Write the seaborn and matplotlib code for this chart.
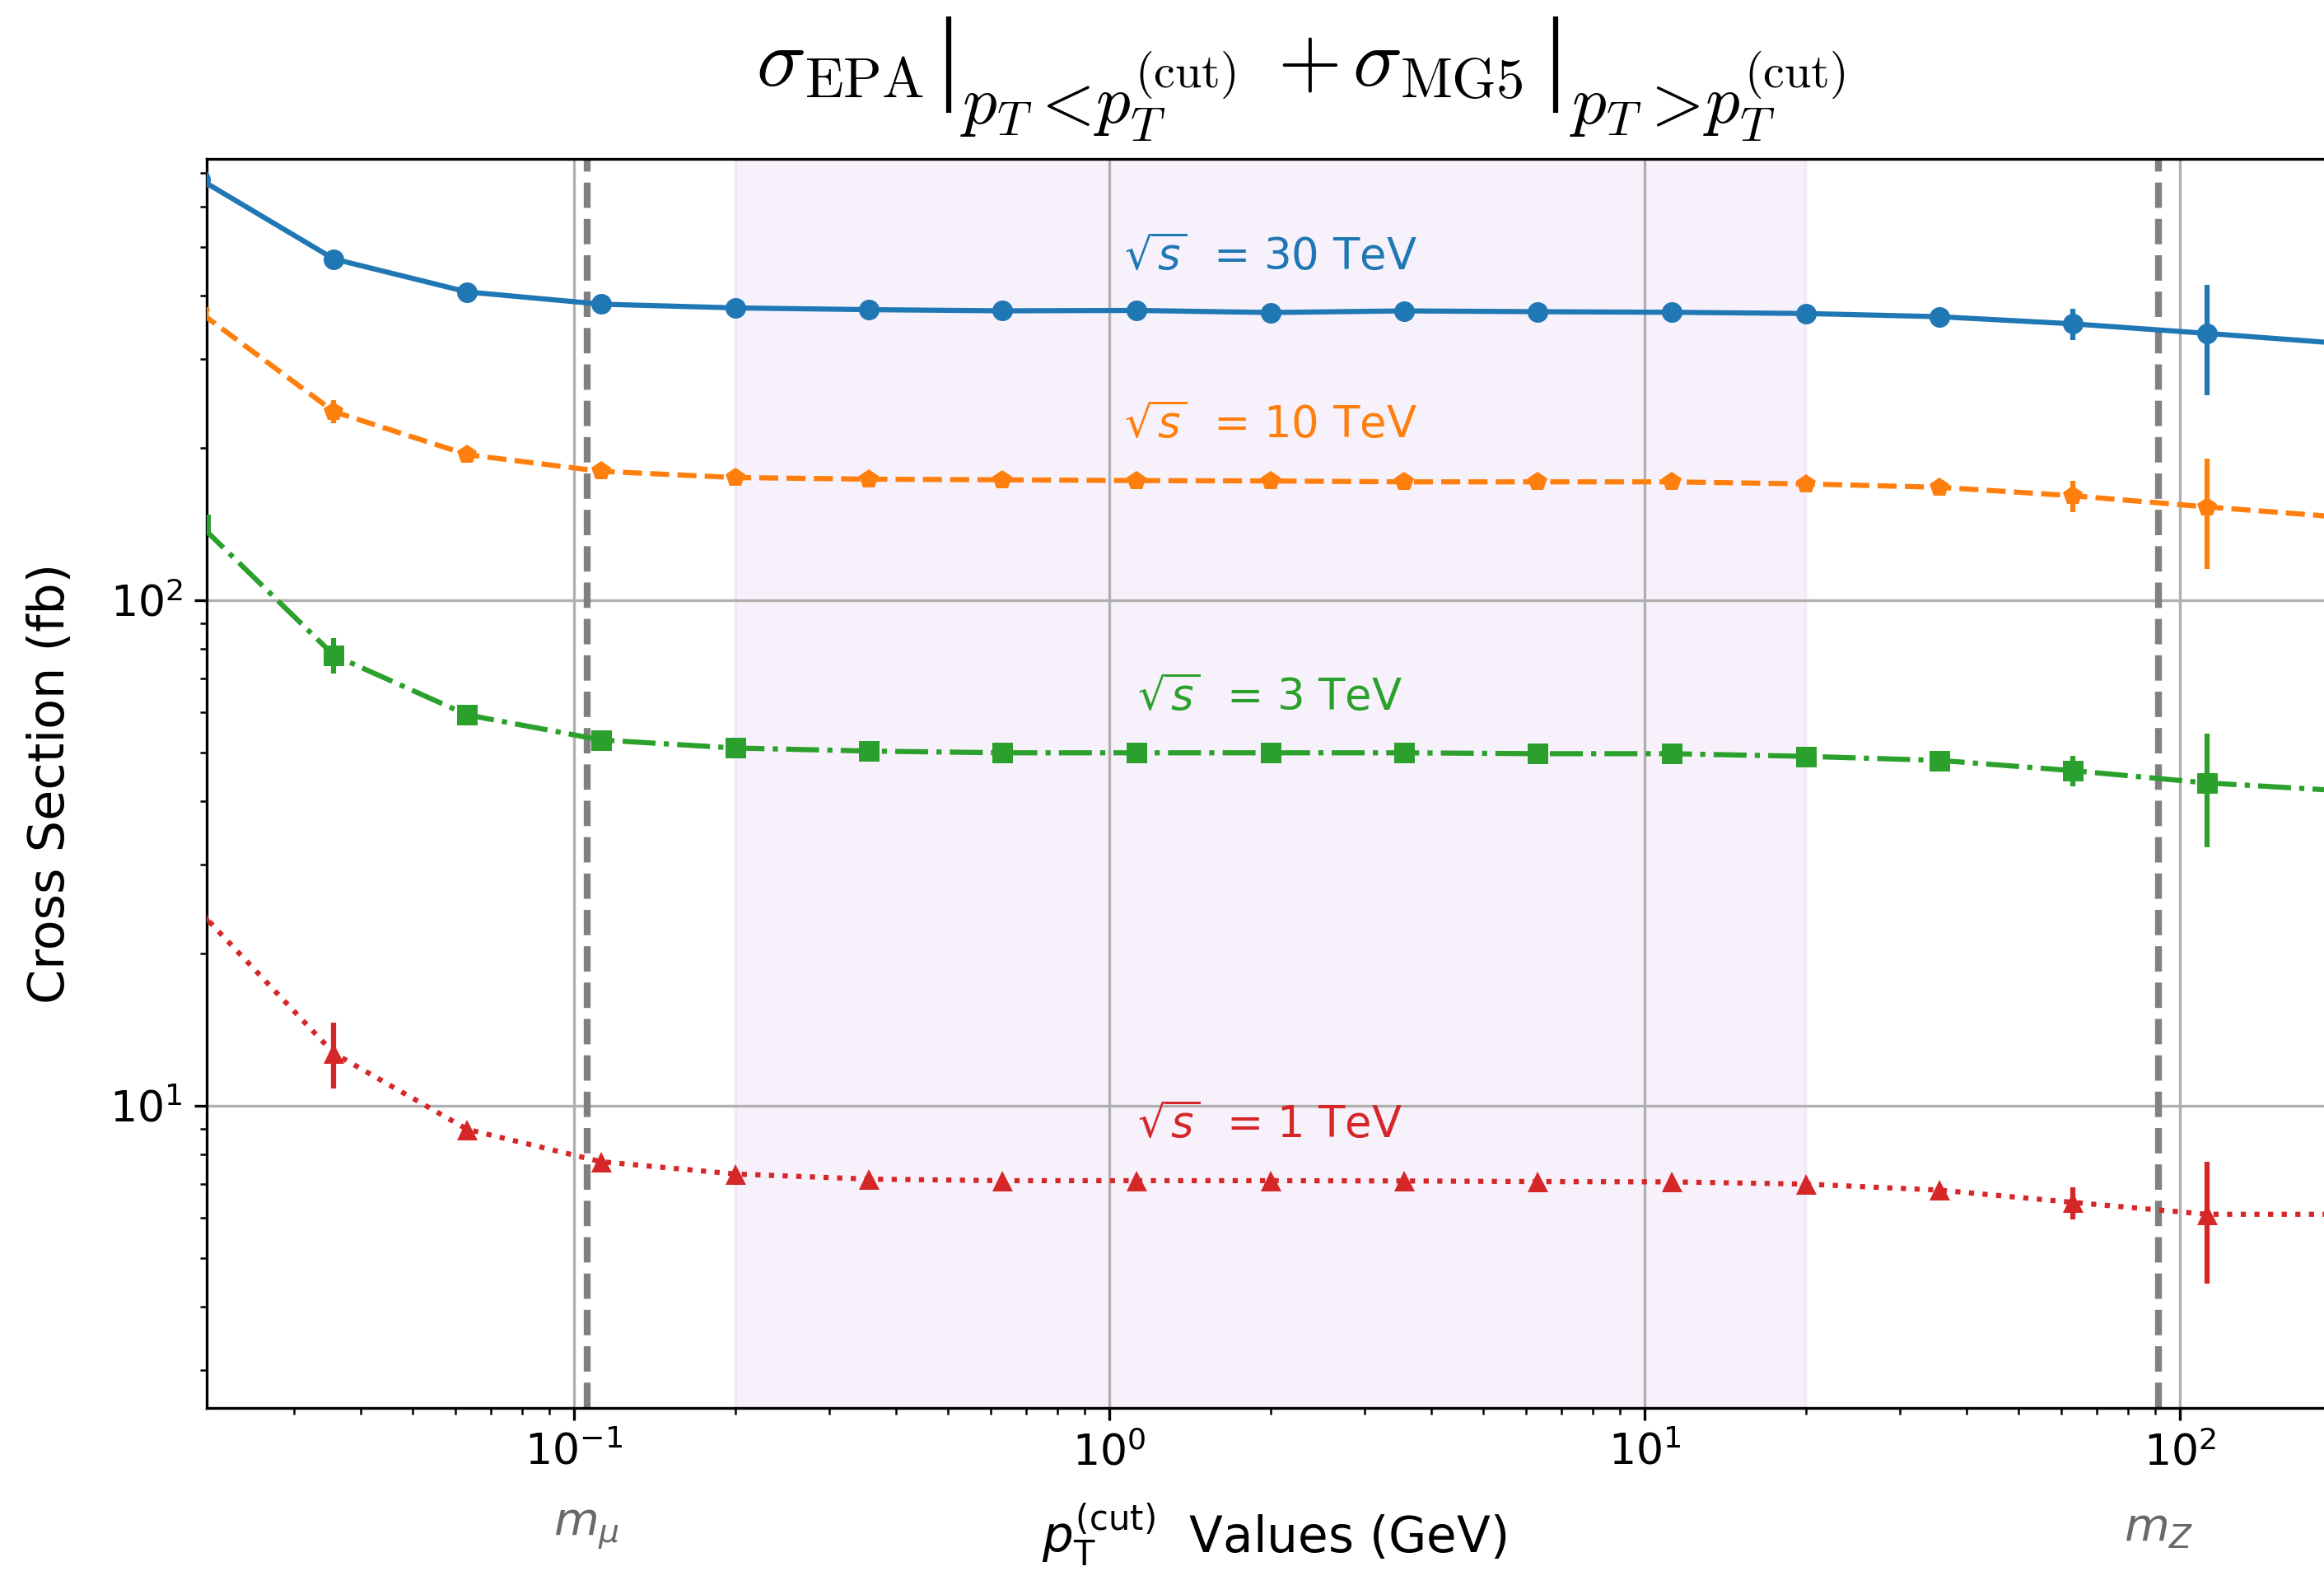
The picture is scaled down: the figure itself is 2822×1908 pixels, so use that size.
import numpy as np
import pandas as pd
import matplotlib
matplotlib.use("Agg")
import matplotlib.pyplot as plt
import matplotlib.transforms as mtransforms
from matplotlib.lines import Line2D
import seaborn as sns

# ---------------- data ----------------
pt_cut = [0.02, 0.0356, 0.0632, 0.1125, 0.2, 0.356, 0.632, 1.125, 2.0, 3.56,
          6.32, 11.25, 20.0, 35.6, 63.2, 112.5, 200.0]

xs_30TeV = [680, 473, 407, 385, 378.5, 375.5, 373.5, 374.2, 370.6, 373.4,
            372, 371, 369, 363.6, 352, 337, 322]
err_30TeV = [0, 0, 0, 0, 0, 0, 0, 0, 0, 0, 0, 0, 0, 0, 25, 83, 0]

xs_10TeV = [371, 236, 194, 179.8, 174.8, 173.5, 173, 172.4, 172.1, 171.4,
            171.4, 171.4, 169.8, 167.2, 160.9, 152.9, 146]
err_10TeV = [0, 12.5, 0, 0, 0, 0, 0, 0, 0, 0, 0, 0, 0, 0, 11.4, 37.7, 0]

xs_3TeV = [141, 77.8, 59.3, 52.9, 51.0, 50.3, 49.9, 49.9, 49.9, 49.9,
           49.7, 49.7, 49.1, 48.2, 46.0, 43.5, 42.0]
err_3TeV = [0, 6.3, 0, 0, 0, 0, 0, 0, 0, 0, 0, 0, 0, 0, 3.2, 11, 0]

xs_1TeV = [24.2, 12.7, 8.98, 7.75, 7.33, 7.16, 7.11, 7.11, 7.11, 7.10,
           7.08, 7.07, 7.0, 6.81, 6.44, 6.10, 6.1]
err_1TeV = [0, 1.9, 0, 0, 0, 0, 0, 0, 0, 0, 0, 0, 0, 0, 0.47, 1.65, 0]

energies = ["30", "10", "3", "1"]
series_vals = [xs_30TeV, xs_10TeV, xs_3TeV, xs_1TeV]
series_errs = [err_30TeV, err_10TeV, err_3TeV, err_1TeV]
colors = ["#1f77b4", "#ff7f0e", "#2ca02c", "#d62728"]
linestyles = ["-", "--", "-.", ":"]
markers = ["o", "p", "s", "^"]

m_mu = 0.10566
m_Z = 91.19
band = (0.2, 20.0)
label_x = 2.0

# ---------------- figure ----------------
W, H = 2822, 1908
dpi = 300
fig = plt.figure(figsize=(W / dpi, H / dpi), dpi=dpi)
left_px, right_px, top_px, bot_px = 251, 2842.5, 193, 1710
ax = fig.add_axes([left_px / W, 1 - bot_px / H,
                   (right_px - left_px) / W, (bot_px - top_px) / H])
ax.set_xscale("log")
ax.set_yscale("log")

ax.axvspan(band[0], band[1], color="#b57edc", alpha=0.1, zorder=0)

for e, vals, errs, c, ls, mk in zip(energies, series_vals, series_errs,
                                     colors, linestyles, markers):
    df = pd.DataFrame({"pt": pt_cut, "xs": vals})
    sns.lineplot(data=df, x="pt", y="xs", ax=ax, color=c, linestyle=ls,
                 marker=mk, markersize=6, markeredgewidth=0, linewidth=1.5,
                 zorder=3)
    ax.errorbar(pt_cut, vals, yerr=errs, fmt="none", ecolor=c,
                elinewidth=1.5, capsize=0, zorder=3)
    idx = pt_cut.index(label_x)
    ax.text(label_x, vals[idx] * 1.17, r"$\sqrt{s}$  = " + e + " TeV",
            color=c, fontsize=12.7, ha="center", va="bottom", zorder=4)

ax.axvline(m_mu, color="gray", linestyle="--", linewidth=2, zorder=2)
ax.axvline(m_Z, color="gray", linestyle="--", linewidth=2, zorder=2)

trans = mtransforms.blended_transform_factory(ax.transData, ax.transAxes)
ax.text(m_mu, -0.096, r"$m_\mu$", transform=trans, color="dimgray",
        fontsize=13.5, ha="center", va="center")
ax.text(m_Z, -0.096, r"$m_Z$", transform=trans, color="dimgray",
        fontsize=13.5, ha="center", va="center")

ax.set_xlim(0.0206, 200)
ax.set_ylim(2.525, 746)
ax.grid(True, which="major", color="#b0b0b0", linewidth=0.8)
ax.tick_params(axis="both", which="major", labelsize=12.5)

ax.set_xlabel(r"$p_{\mathrm{T}}^{(\mathrm{cut})}$  Values (GeV)",
              fontsize=14.3, labelpad=8)
ax.set_ylabel("Cross Section (fb)", fontsize=14.5, labelpad=10)

# ---------------- title (composed: sigma | evaluation bar | limits) -------
def ttext(xp, yp, s, size):
    return fig.text(xp / W, 1 - yp / H, s, fontsize=size,
                    math_fontfamily="cm", ha="left", va="baseline",
                    color="black")

def tbar(xp, y0, y1):
    fig.add_artist(Line2D([xp / W, xp / W], [1 - y0 / H, 1 - y1 / H],
                          transform=fig.transFigure, color="black",
                          linewidth=1.5, solid_capstyle="butt"))

renderer = fig.canvas.get_renderer()

def limit_block(x_start, rel):
    t1 = ttext(x_start, 150, r"$p_T" + rel + r"$", 20)
    e1 = t1.get_window_extent(renderer)
    ttext(e1.x1 + 4, 150, r"$p_T^{\mathrm{(cut)}}$", 20)

ttext(918, 104, r"$\sigma$", 24)
ttext(977, 118, r"$\mathrm{EPA}$", 16.5)
tbar(1152, 20, 137)
limit_block(1166, "<")
ttext(1551, 104, r"$+$", 24)
ttext(1642, 104, r"$\sigma$", 24)
ttext(1700, 118, r"$\mathrm{MG5}$", 16.5)
tbar(1889, 20, 137)
limit_block(1906, ">")

fig.savefig("out.png", dpi=dpi)
